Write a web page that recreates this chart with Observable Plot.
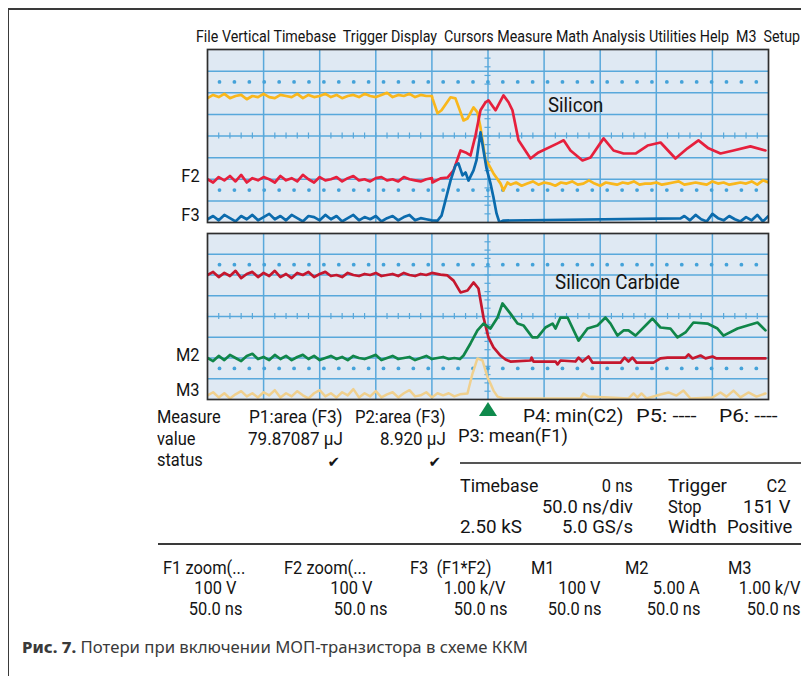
<!DOCTYPE html>
<html><head><meta charset="utf-8">
<script src="https://cdn.jsdelivr.net/npm/d3@7"></script>
<script src="https://cdn.jsdelivr.net/npm/@observablehq/plot@0.6"></script>
<style>
html,body{margin:0;padding:0;background:#fff;}
#root{position:relative;width:801px;height:676px;overflow:hidden;background:#fff;}
.t{position:absolute;left:0;top:0;white-space:pre;line-height:1;color:#141414;font-family:Roboto,"Liberation Sans",sans-serif;}
.rule{position:absolute;background:#3a3a3a;}
</style></head><body><div id="root"></div>
<script>
// ---------- DATA (time in ns, amplitude in screen divisions, 0 = bottom of panel) ----------
// Top panel "Silicon": F1 (yellow), F2 (red), F3 (blue)
const f1Before = [5.75,5.9,5.8,5.95,5.75,5.85,5.9,5.7,5.85,5.8, 5.95,5.8,5.75,5.9,5.85,5.8,5.95,5.75,5.9,5.8, 5.85,5.95,5.8,5.9,5.75,5.85,5.9,5.8,5.95,5.85, 5.8,5.9,6.0,5.8,5.9,5.85,5.95,5.8,5.9,5.85, 5.85]; // every 5 ns from -250
const f1Edge = [[-49.5,5.74],[-45,5.05],[-41.4,5.19],[-33.4,5.79],[-29,5.74],[-21.8,4.72],[-18.3,4.81],[-12.9,5.32],[-9.4,5.09],[-6.7,4.4],[-2.2,2.87],[0,2.73],[4.9,2.27],[11.1,1.81],[13.8,1.48],[17.4,1.85]];
const f1After = [1.75,1.85,1.7,1.8,1.9,1.75,1.85,1.8,1.7,1.85, 1.8,1.9,1.75,1.8,1.95,1.8,1.7,1.85,1.8,1.75, 1.85,1.8,1.9,1.75,1.8,1.8,1.85,1.75,1.8,1.85, 1.9,1.75,1.8,1.85,1.8,1.75,1.9,1.8,1.85,1.75, 1.8,1.85,1.8,1.9,1.75,1.95,1.85]; // every 5 ns from 20

const f2Before = [2.0,1.85,2.1,1.95,2.15,1.9,2.2,1.85,2.05,1.95, 2.1,2.0,1.85,2.15,1.95,2.05,1.9,2.2,2.0,1.85, 2.1,1.95,2.0,2.1,1.9,2.05,2.15,1.95,2.0,1.9, 2.05,2.1,1.95,2.0,1.9,2.1,2.0,1.95,1.9,2.0, 2.05]; // every 5 ns from -250
const f2Edge = [[-49.5,1.85],[-42.3,2.04],[-36.1,2.08],[-30.7,2.41],[-24.5,3.33],[-20,3.24],[-15.6,3.1],[-11.1,4.03],[-6.7,5.19],[-2.2,5.56],[0.4,5.65],[6.7,5.19],[13.8,5.88],[18.3,5.56],[21.8,5.19],[27.2,3.8],[37.9,2.96],[45,3.24],[62,3.66],[67.4,3.8],[73.5,3.33],[84.2,2.87],[91.4,3.01],[103,3.89],[111.9,3.33],[120.8,3.19],[131.5,3.19],[142.2,3.56],[153.8,3.7],[167.1,2.96],[177.8,3.43],[187.6,3.8],[196.5,3.43],[207.2,3.19],[218.8,3.33],[233.9,3.52],[247.3,3.33]];

const f3Before = [0.15,0.3,0.1,0.35,0.2,0.05,0.3,0.15,0.35,0.1, 0.25,0.4,0.15,0.3,0.1,0.35,0.2,0.05,0.3,0.25, 0.1,0.35,0.15,0.3,0.05,0.2,0.35,0.1,0.25,0.15, 0.3,0.05,0.2,0.3,0.1,0.25,0.35,0.1,0.2,0.15, 0.1]; // every 5 ns from -250
const f3Edge = [[-45,0.09],[-41.4,0.32],[-37.9,1.02],[-33.4,1.94],[-29,2.64],[-26.3,2.73],[-22.7,2.18],[-20,2.31],[-17.4,1.94],[-12.9,2.41],[-10.3,2.87],[-6.7,4.17],[-4,3.33],[-1.3,2.5],[2.2,1.81],[4.9,1.16],[7.6,0.42],[10.2,0],[13.8,0.09],[171.6,0.19]];
const f3After = [0.3,0.1,0.35,0.15,0.05,0.4,0.2,0.1,0.3,0.15, 0.05,0.25,0.1,0.35,0.05,0.3]; // every 5 ns from 175

// Bottom panel "Silicon Carbide": M1 (dark red), M2 (green), M3 (tan)
const m1Before = [6.0,6.15,5.9,6.1,5.95,6.2,5.85,6.05,6.15,5.9, 6.1,5.95,6.2,5.9,6.05,5.85,6.1,6.0,6.15,5.9, 6.05,6.15,5.95,6.0,5.9,6.1,6.0,5.95,6.05,6.0, 6.1,5.95,6.0,6.05,5.95,6.1,6.0,5.95,6.05,6.0, 6.1]; // every 5 ns from -250
const m1Edge = [[-42.3,6.02],[-36.1,5.98],[-30.7,5.73],[-24.5,5.16],[-18.3,5.25],[-12.9,5.64],[-8.5,5.35],[-4,3.95],[0.4,2.99],[4.9,2.51],[11.1,2.12],[15.6,1.93],[20,1.83],[37.9,1.88],[38.8,2.02],[40.6,1.83],[60.2,1.83],[62,1.69],[64.6,1.88],[78,1.83],[80.7,2.02],[84.2,1.83],[89.6,2.07],[93.1,1.78],[118.1,1.78],[121.7,2.02],[125.2,1.83],[128.8,2.02],[132.4,1.78],[147.5,1.78],[153.7,1.98],[160,2.02],[176,2.02],[178.7,2.17],[182.3,1.98],[189.4,2.12],[193.9,1.98],[200.1,2.07],[203.7,1.98],[247.3,1.98]];

const m2Before = [2.0,1.85,2.1,1.9,2.15,2.0,1.85,2.1,2.2,1.95, 2.05,1.9,2.15,1.95,2.1,1.9,2.05,2.15,1.95,2.1, 1.9,2.0,2.1,1.95,2.05,1.9,2.1,2.0,1.95,2.05, 2.15,1.9,2.0,2.1,1.95,2.0,2.05,1.9,2.0,2.1, 1.95,2.0,2.05,1.95,2.0,1.95]; // every 5 ns from -250
const m2Edge = [[-21.8,2.12],[-15.6,2.7],[-9.4,3.33],[-4,3.66],[2.2,3.42],[8.5,3.95],[12.9,4.63],[20,4.14],[26.3,3.66],[31.6,3.57],[39.7,2.99],[44.1,2.99],[51.2,3.47],[57.5,3.66],[60.2,3.42],[64.6,3.95],[70.9,3.95],[80.7,2.84],[88.7,3.42],[97.6,3.57],[104.7,3.95],[109.2,3.66],[115.4,3.08],[120.8,3.33],[125.2,3.33],[131.5,3.08],[146.6,3.9],[153.7,3.47],[162.6,3.42],[168.9,2.99],[176,3.23],[183.1,3.71],[195.6,3.66],[204.5,3.42],[209.9,3.08],[222.4,3.42],[231.3,3.57],[240.2,3.71],[247.3,3.33]];

const m3Before = [0.2,0.35,0.1,0.3,0.05,0.25,0.4,0.15,0.3,0.1, 0.35,0.2,0.45,0.1,0.3,0.15,0.4,0.2,0.05,0.3, 0.45,0.15,0.3,0.1,0.35,0.2,0.5,0.1,0.3,0.15, 0.4,0.1,0.25,0.35,0.1,0.3,0.45,0.15,0.2,0.35, 0.1,0.3,0.2,0.3,0.15,0.25]; // every 5 ns from -250
const m3Edge = [[-18.3,0.29],[-13.8,1.25],[-9.4,1.98],[-4.9,1.88],[-0.4,1.06],[2.2,0.77],[4.9,0.43],[8.5,0.14],[13.8,0.05],[82.4,0.05],[85.1,0.29],[89.6,0.14],[125.2,0.05],[129.7,0.29],[133.2,0.1],[136.8,0.29],[141.3,0.05],[153.7,0.24],[160.9,0.34],[168,0.19],[174.2,0.43],[180.5,0.05],[200.1,0.1],[207.2,0.34],[212.6,0.14],[218.8,0.43],[225,0.1],[232.1,0.34],[239.3,0.14],[247.3,0.29]];

// screen graticule
const gridTimes = [-200,-150,-100,-50,0,50,100,150,200];
const gridDivs = [1,2,3,4,5,6,7];
const dotRows = [1.5, 6.5];

// text
const menuText = "File Vertical Timebase  Trigger Display  Cursors Measure Math Analysis Utilities Help  M3  Setup";
const bottomHeads = ["F1 zoom(...", "F2 zoom(...", "F3  (F1*F2)", "M1", "M2", "M3"];
const bottomScales = ["100 V", "100 V", "1.00 k/V", "100 V", "5.00 A", "1.00 k/V"];
const bottomTimes = ["50.0 ns", "50.0 ns", "50.0 ns", "50.0 ns", "50.0 ns", "50.0 ns"];

// ---------- BUILD ----------
const sampled = (vals, t0, step) => vals.map((v, i) => [t0 + i * step, v]);
const join = (...parts) => parts.flat().sort((a, b) => a[0] - b[0]);
const F1 = join(sampled(f1Before, -250, 5), f1Edge, sampled(f1After, 20, 5));
const F2 = join(sampled(f2Before, -250, 5), f2Edge);
const F3 = join(sampled(f3Before, -250, 5), f3Edge, sampled(f3After, 175, 5));
const M1 = join(sampled(m1Before, -250, 5), m1Edge);
const M2 = join(sampled(m2Before, -250, 5), m2Edge);
const M3 = join(sampled(m3Before, -250, 5), m3Edge);

const BG = "#dfe9f3", GRID = "#58a8db", DOT = "#44a2d9";
const root = document.getElementById("root");

function scopePanel(traces, h) {
  const m = 7;
  const hTicks = d3.range(-250, 251, 10);
  const vTicks = d3.range(0.4, 7.7, 0.4);
  const dotTimes = d3.range(37).map(i => -239.3 + i * 13.29);
  const dots = dotRows.flatMap(y => dotTimes.map(x => ({x, y})));
  const pxPerDiv = h / 8;
  const tk = 3 / pxPerDiv;
  return Plot.plot({
    width: 561 + 2 * m, height: h + 2 * m,
    marginLeft: m, marginRight: m, marginTop: m, marginBottom: m,
    x: {domain: [-250, 250], axis: null},
    y: {domain: [0, 8], axis: null},
    style: {background: "transparent", overflow: "visible"},
    marks: [
      Plot.frame({fill: BG, stroke: "none"}),
      Plot.ruleX(gridTimes, {stroke: GRID, strokeWidth: 1.5}),
      Plot.ruleY(gridDivs, {stroke: GRID, strokeWidth: 1.5}),
      Plot.ruleX(hTicks, {y1: () => 4 - tk, y2: () => 4 + tk, stroke: GRID, strokeWidth: 1.2}),
      Plot.ruleY(vTicks, {x1: () => -2.7, x2: () => 2.7, stroke: GRID, strokeWidth: 1.2}),
      Plot.dot(dots, {x: "x", y: "y", r: 1.9, fill: DOT}),
      ...traces.map(tr => Plot.line(tr.data, {x: d => d[0], y: d => d[1], stroke: tr.color, strokeWidth: tr.w || 2.7, strokeLinejoin: "round", clip: true})),
      Plot.frame({stroke: "#2e2e2e", strokeWidth: 1.7})
    ]
  });
}

function place(node, left, top) {
  const wrap = document.createElement("div");
  wrap.style.cssText = `position:absolute;left:${left}px;top:${top}px;`;
  wrap.appendChild(node);
  root.appendChild(wrap);
}

place(scopePanel([
  {data: F1, color: "#f9b71c"},
  {data: F2, color: "#e6203d"},
  {data: F3, color: "#0b6bad"}
], 173), 200, 42);

place(scopePanel([
  {data: M3, color: "#f0d08e", w: 2.5},
  {data: M1, color: "#c5172e"},
  {data: M2, color: "#108649"}
], 166), 200, 226);

// frame lines
function rule(x, y, w, h, color) {
  const d = document.createElement("div");
  d.className = "rule";
  d.style.cssText += `left:${x}px;top:${y}px;width:${w}px;height:${h}px;` + (color ? `background:${color};` : "");
  root.appendChild(d);
}
rule(8, 8, 793, 1.6);
rule(7.5, 8, 1.6, 668);
rule(460, 462, 341, 2, "#555");
rule(158, 543, 643, 2, "#3a3a3a");

// text helper (baseline positioning)
let SX = 0.86;
function label(s, x, y, o = {}) {
  const el = document.createElement("div");
  el.className = "t";
  el.style.fontSize = (o.size || 18.5) + "px";
  if (o.weight) el.style.fontWeight = o.weight;
  if (o.family) el.style.fontFamily = o.family;
  if (o.color) el.style.color = o.color;
  if (o.html) el.innerHTML = s; else el.textContent = s;
  const probe = document.createElement("span");
  probe.style.cssText = "display:inline-block;width:0;height:0;vertical-align:baseline";
  el.appendChild(probe);
  root.appendChild(el);
  const w = el.offsetWidth;
  const base = probe.offsetTop;
  const sx = o.w ? o.w / w : (o.sx || SX);
  const anchor = o.anchor || "start";
  const left = anchor === "end" ? x - w : anchor === "middle" ? x - w / 2 : x;
  el.style.left = left + "px";
  el.style.top = (y - base) + "px";
  el.style.transformOrigin = anchor === "end" ? "right center" : anchor === "middle" ? "center center" : "left center";
  el.style.transform = `scaleX(${sx})`;
  return el;
}
// calibrate condensed factor from "Measure"
{
  const tmp = label("Measure", 0, -100, {sx: 1});
  SX = 64 / tmp.offsetWidth;
  tmp.remove();
}

label(menuText, 196, 42, {size: 17, w: 604});

label("F2", 200, 182, {anchor: "end"});
label("F3", 200, 221, {anchor: "end"});
label("M2", 200, 361, {anchor: "end"});
label("M3", 200, 396, {anchor: "end"});

label("Silicon", 548, 112, {size: 21, w: 55});
label("Silicon Carbide", 555, 289, {size: 21, w: 125});

label("Measure", 157, 423);
label("P1:area (F3)", 343, 423, {anchor: "end", w: 94});
label("P2:area (F3)", 446, 423, {anchor: "end", w: 91});
label("value", 157, 445);
label("79.87087 μJ", 343, 445, {anchor: "end", w: 95});
label("8.920 μJ", 446, 445, {anchor: "end", w: 66});
label("status", 157, 466);
label("✔", 334, 467, {anchor: "middle", size: 15, family: "DejaVu Sans", sx: 1});
label("✔", 435, 467, {anchor: "middle", size: 15, family: "DejaVu Sans", sx: 1});

// trigger marker
{
  const tri = document.createElement("div");
  tri.style.cssText = "position:absolute;left:479px;top:402px;width:0;height:0;border-left:9px solid transparent;border-right:9px solid transparent;border-bottom:14px solid #0f8a4c;";
  root.appendChild(tri);
}
label("P4: min(C2)", 523, 422, {w: 100});
label("P5: ----", 636, 422, {w: 61});
label("P6: ----", 719, 422, {w: 59});
label("P3: mean(F1)", 458, 442, {w: 110});

label("Timebase", 460, 492, {w: 78});
label("0 ns", 633, 492, {anchor: "end"});
label("Trigger", 668, 492, {w: 59});
label("C2", 786, 492, {anchor: "end"});
label("50.0 ns/div", 633, 513, {anchor: "end", w: 91});
label("Stop", 668, 513);
label("151 V", 791, 513, {anchor: "end", w: 48});
label("2.50 kS", 460, 533, {w: 62});
label("5.0 GS/s", 633, 533, {anchor: "end", w: 71});
label("Width", 668, 533, {w: 49});
label("Positive", 792, 533, {anchor: "end", w: 65});

const headX = [163, 284, 410, 531, 625, 728];
const scaleEnd = [237, 373, 505, 601, 700, 800];
const timeEnd = [242, 387, 507, 601, 700, 800];
bottomHeads.forEach((s, i) => label(s, headX[i], 574));
bottomScales.forEach((s, i) => label(s, scaleEnd[i], 594, {anchor: "end"}));
bottomTimes.forEach((s, i) => label(s, timeEnd[i], 615, {anchor: "end"}));

label('<b style="font-weight:800">Рис. 7.</b> Потери при включении МОП-транзистора в схеме ККМ', 22, 653,
  {html: true, size: 15.5, family: '"Noto Sans","Open Sans",sans-serif', color: "#3a3a3a", w: 506});
</script></body></html>
